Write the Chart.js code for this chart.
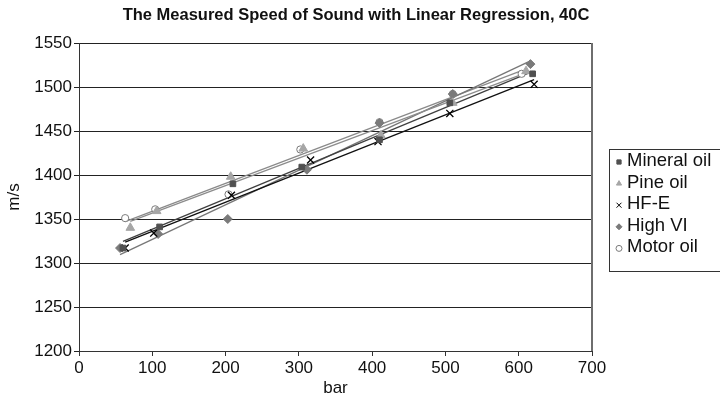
<!DOCTYPE html>
<html lang="en">
<head>
  <meta charset="UTF-8" />
  <title>Speed of Sound, 40C</title>
  <script src="https://cdn.jsdelivr.net/npm/chart.js"></script>
  <style>
    html, body { margin: 0; padding: 0; background: #fff; }
    .chart-wrapper { width: 720px; height: 403px; }
  </style>
</head>
<body>
<div class="chart-wrapper">
  <canvas id="somChart" width="720" height="403"></canvas>
</div>

<script>
  // measured points per fluid: pressure (bar) and speed of sound (m/s)
  const seriesNames = ['Mineral oil', 'Pine oil', 'HF-E', 'High VI', 'Motor oil'];

  const barMineral = [60, 110, 210, 304, 410, 506, 619];
  const msMineral  = [1317, 1341, 1390, 1409, 1440, 1482, 1515];

  const barPine = [70, 106, 207, 306, 412, 510, 610];
  const msPine  = [1340, 1359, 1398, 1430, 1445, 1482, 1518];

  const barHFE = [63, 102, 208, 316, 408, 506, 621];
  const msHFE  = [1317, 1334, 1377, 1417, 1438, 1470, 1503];

  const barHighVI = [56, 108, 203, 311, 410, 510, 616];
  const msHighVI  = [1317, 1333, 1350, 1406, 1459, 1492, 1526];

  const barMotor = [63, 104, 204, 302, 410, 510, 604];
  const msMotor  = [1351, 1361, 1378, 1429, 1460, 1492, 1515];

  const xTicks = [0, 100, 200, 300, 400, 500, 600, 700];
  const yTicks = [1200, 1250, 1300, 1350, 1400, 1450, 1500, 1550];

  const allBar = [barMineral, barPine, barHFE, barHighVI, barMotor];
  const allMs  = [msMineral, msPine, msHFE, msHighVI, msMotor];

  const styles = [
    { point: 'rect',     radius: 4,   fill: '#505050', stroke: '#505050', line: '#404040' },
    { point: 'triangle', radius: 5,   fill: '#a6a6a6', stroke: '#a6a6a6', line: '#8c8c8c' },
    { point: 'crossRot', radius: 5,   fill: '#000000', stroke: '#000000', line: '#111111' },
    { point: 'rectRot',  radius: 4.5, fill: '#7a7a7a', stroke: '#7a7a7a', line: '#777777' },
    { point: 'circle',   radius: 3.6, fill: '#ffffff', stroke: '#7a7a7a', line: '#8a8a8a' }
  ];

  // least squares fit, drawn from the first to the last pressure of a series
  function regression(xs, ys) {
    const n = xs.length;
    const mx = xs.reduce((a, b) => a + b, 0) / n;
    const my = ys.reduce((a, b) => a + b, 0) / n;
    let sxy = 0, sxx = 0;
    for (let i = 0; i < n; i++) {
      sxy += (xs[i] - mx) * (ys[i] - my);
      sxx += (xs[i] - mx) * (xs[i] - mx);
    }
    const slope = sxy / sxx;
    const icpt = my - slope * mx;
    const x0 = Math.min(...xs), x1 = Math.max(...xs);
    return [{ x: x0, y: icpt + slope * x0 }, { x: x1, y: icpt + slope * x1 }];
  }

  const datasets = [];
  seriesNames.forEach((name, i) => {
    const st = styles[i];
    datasets.push({
      type: 'line',
      label: name + ' fit',
      data: regression(allBar[i], allMs[i]),
      borderColor: st.line,
      borderWidth: 1.3,
      pointRadius: 0,
      fill: false,
      order: 2
    });
    datasets.push({
      type: 'scatter',
      label: name,
      data: allBar[i].map((x, k) => ({ x: x, y: allMs[i][k] })),
      pointStyle: st.point,
      pointRadius: st.radius,
      pointBackgroundColor: st.fill,
      pointBorderColor: st.stroke,
      pointBorderWidth: st.point === 'crossRot' ? 1.3 : 1,
      order: 1
    });
  });

  // title, right frame edge and the boxed legend
  const decorations = {
    id: 'decorations',
    afterDraw(chart) {
      const ctx = chart.ctx;
      const area = chart.chartArea;
      ctx.save();

      ctx.fillStyle = '#111';
      ctx.font = 'bold 16.5px "Liberation Sans", Arial, sans-serif';
      ctx.textAlign = 'center';
      ctx.textBaseline = 'middle';
      ctx.fillText('The Measured Speed of Sound with Linear Regression, 40C', 356, 15);

      ctx.strokeStyle = '#6e6e6e';
      ctx.lineWidth = 2;
      ctx.beginPath();
      ctx.moveTo(area.right, area.top);
      ctx.lineTo(area.right, area.bottom);
      ctx.stroke();

      const boxL = 609.5, boxT = 149.5, boxW = 112, boxH = 122;
      ctx.strokeStyle = '#333';
      ctx.lineWidth = 1;
      ctx.strokeRect(boxL, boxT, boxW, boxH);

      ctx.font = '18.5px "Liberation Sans", Arial, sans-serif';
      ctx.textAlign = 'left';
      seriesNames.forEach((name, i) => {
        const st = styles[i];
        const y = 161 + i * 21.6;
        ctx.fillStyle = st.fill;
        ctx.strokeStyle = st.stroke;
        Chart.helpers.drawPoint(ctx, {
          pointStyle: st.point,
          radius: st.point === 'crossRot' ? 3.5 : 3,
          rotation: 0,
          borderWidth: 1
        }, 619, y + 1);
        ctx.fillStyle = '#111';
        ctx.fillText(name, 627, y);
      });
      ctx.restore();
    }
  };

  const fontAxis = { family: '"Liberation Sans", Arial, sans-serif', size: 17 };

  new Chart(document.getElementById('somChart'), {
    type: 'scatter',
    data: { datasets: datasets },
    options: {
      responsive: false,
      animation: false,
      layout: { padding: { left: 0, right: 128, top: 43, bottom: 0 } },
      plugins: {
        legend: { display: false },
        title: { display: false },
        tooltip: { enabled: false }
      },
      scales: {
        x: {
          type: 'linear',
          min: 0,
          max: 700,
          afterBuildTicks: scale => { scale.ticks = xTicks.map(v => ({ value: v })); },
          afterFit: scale => { scale.height = 52; },
          ticks: { color: '#111', font: fontAxis, padding: 2, maxRotation: 0, callback: v => String(v) },
          grid: { drawOnChartArea: false, tickLength: 5, color: '#333' },
          border: { color: '#333', width: 1 },
          title: { display: true, text: 'bar', color: '#111', font: fontAxis, padding: { top: 0, bottom: 4 } }
        },
        y: {
          type: 'linear',
          min: 1200,
          max: 1550,
          afterBuildTicks: scale => { scale.ticks = yTicks.map(v => ({ value: v })); },
          afterFit: scale => { scale.width = 79; },
          ticks: { color: '#111', font: fontAxis, padding: 2, callback: v => String(v) },
          grid: { color: '#222', lineWidth: 1, tickLength: 5 },
          border: { color: '#333', width: 1 },
          title: { display: true, text: 'm/s', color: '#111', font: fontAxis, padding: { top: 4, bottom: 0 } }
        }
      }
    },
    plugins: [decorations]
  });
</script>
</body>
</html>
